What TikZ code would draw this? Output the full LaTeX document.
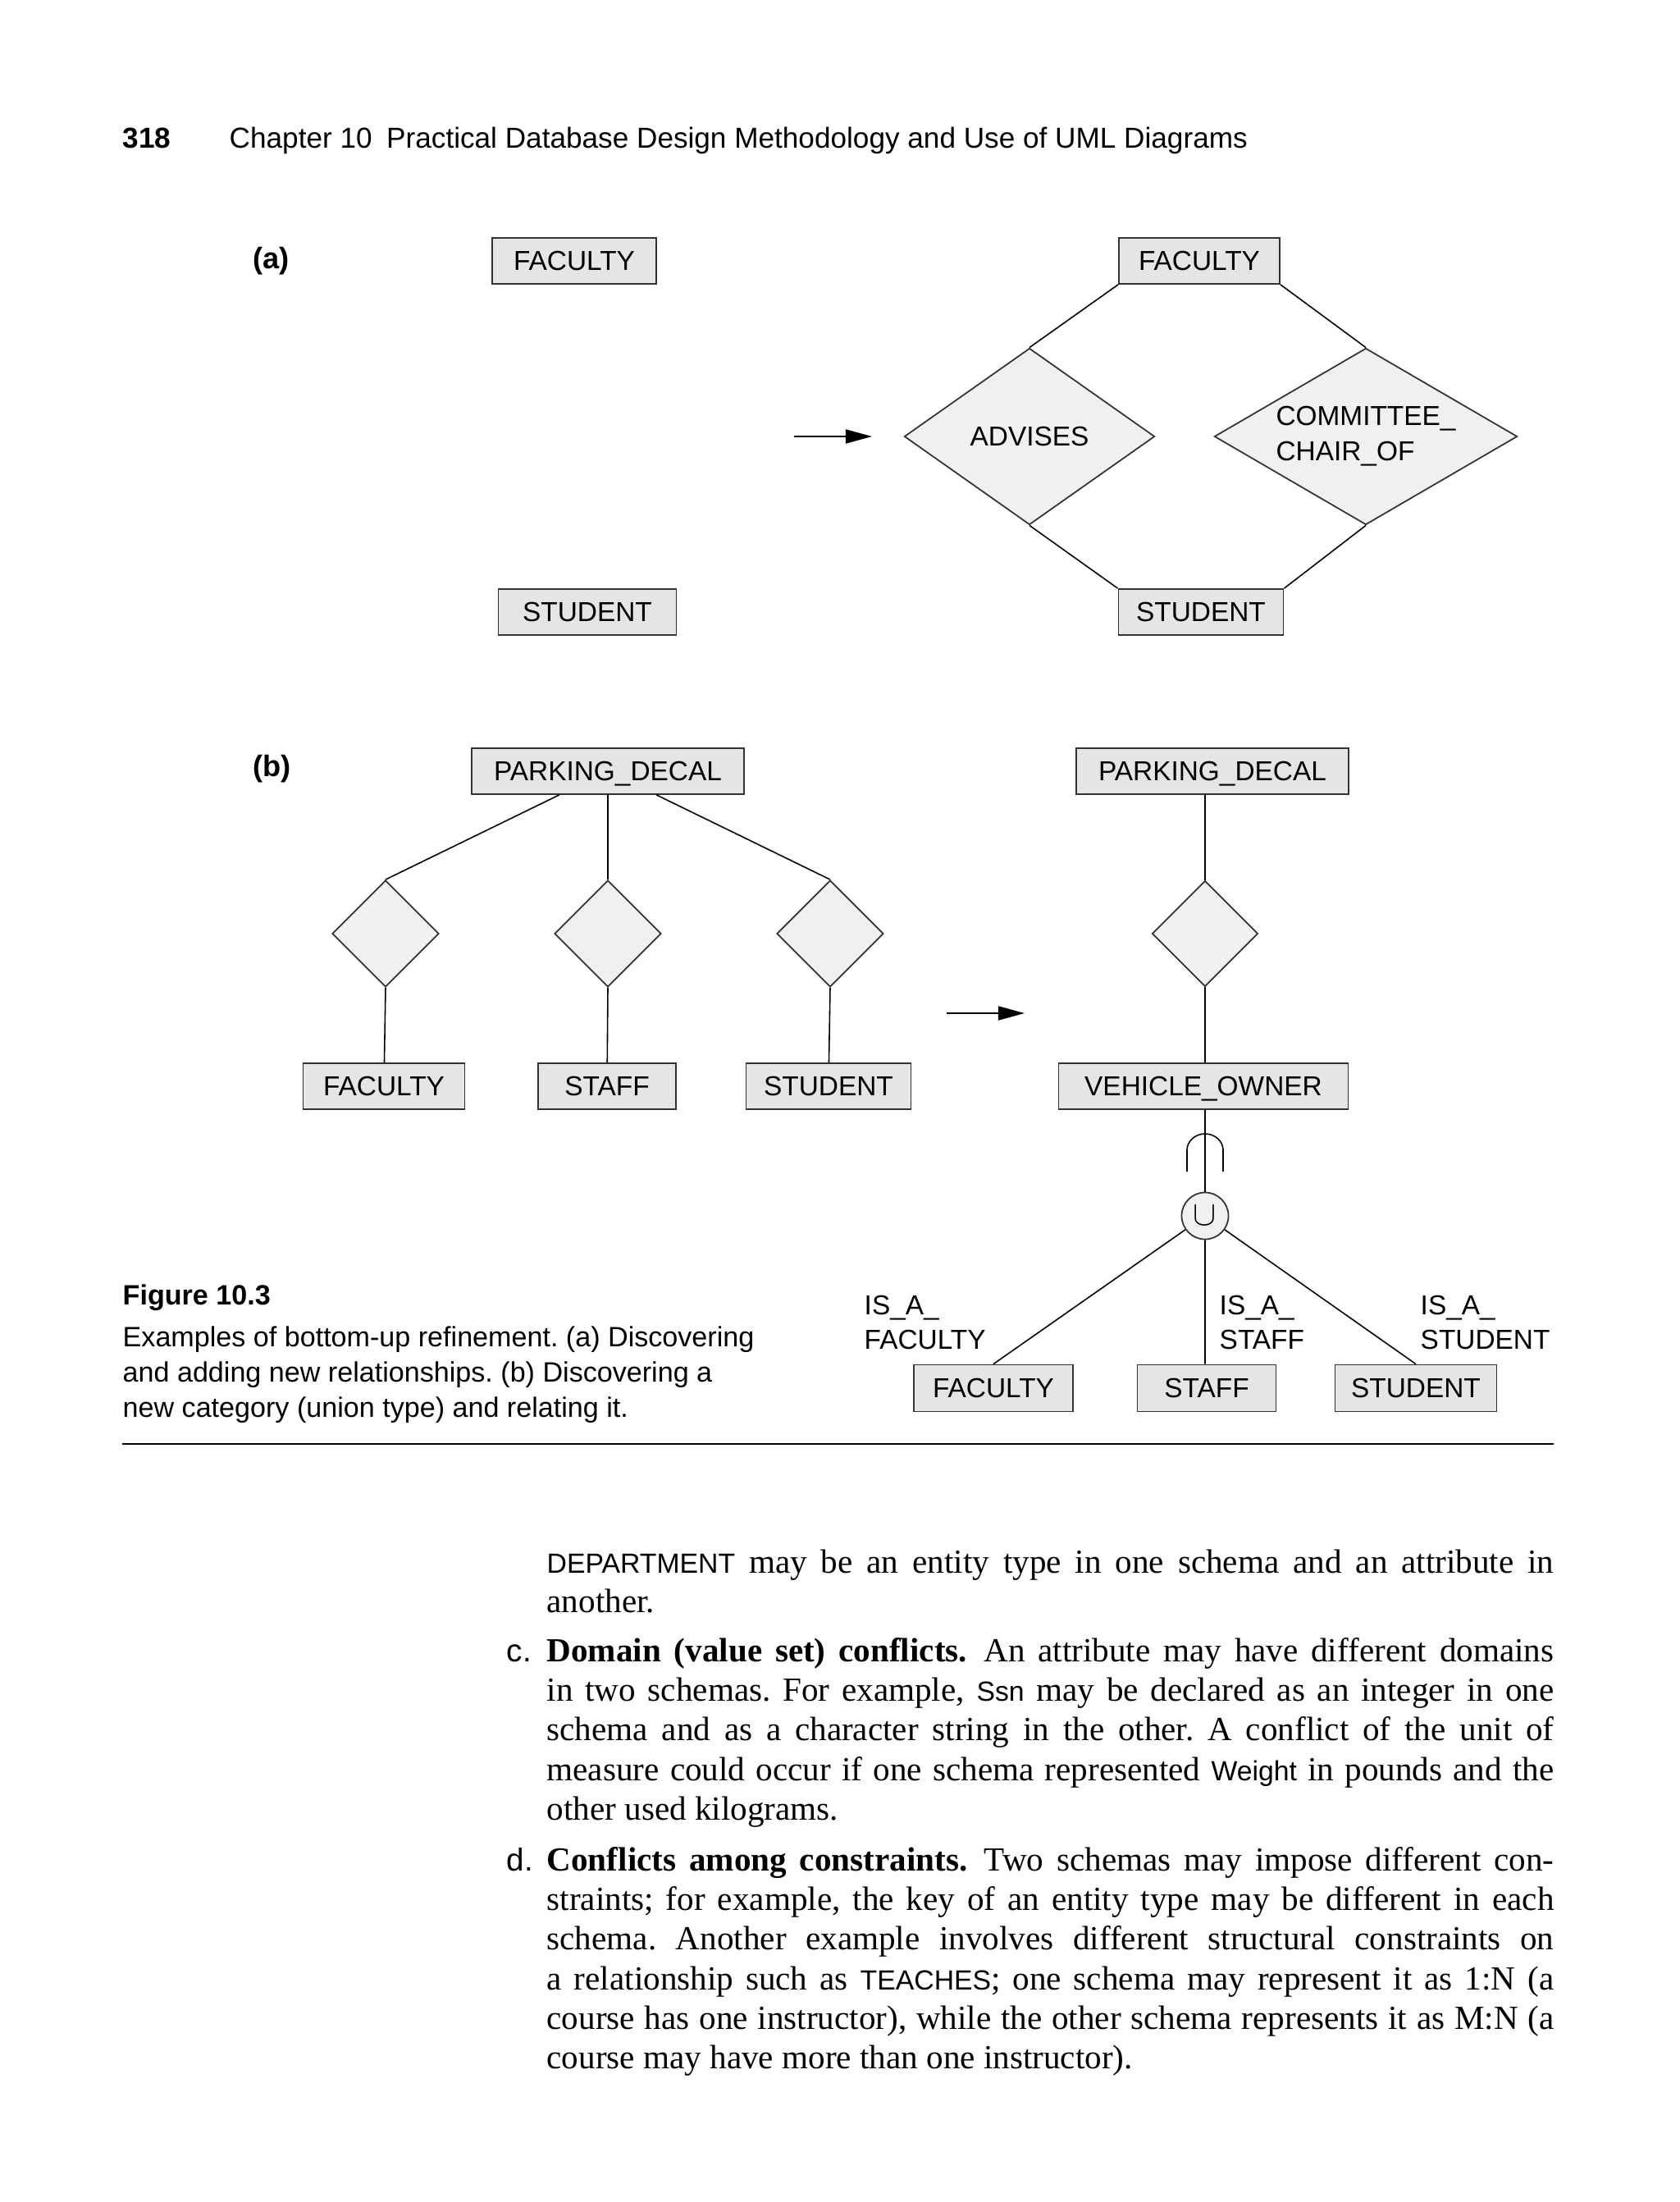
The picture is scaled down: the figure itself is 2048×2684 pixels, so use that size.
\documentclass[tikz,border=0pt]{standalone}
\usepackage{fontspec}
\setmainfont{Liberation Serif}
\setsansfont{Liberation Sans}
\usetikzlibrary{shapes.geometric,arrows.meta}
\definecolor{entfill}{gray}{0.90}
\definecolor{relfill}{gray}{0.94}
\definecolor{edge}{gray}{0.2}
\newcommand{\sfw}[1]{{\sffamily\fontsize{9.6pt}{13.66pt}\selectfont #1}}
\newcommand{\topfix}{\rule{0pt}{10pt}}
\frenchspacing

\begin{document}
\begin{tikzpicture}[x=0.01cm, y=-0.01cm,
	ent/.style={draw=edge, line width=0.5pt, fill=entfill, minimum height=0.56cm, inner sep=0pt, text depth=0pt, font=\sffamily\fontsize{9.5pt}{12.2pt}\selectfont},
	rel/.style={diamond, draw=edge, line width=0.5pt, fill=relfill, inner sep=0pt, font=\sffamily\fontsize{9.5pt}{12.2pt}\selectfont},
	link/.style={line width=0.45pt},
	refine/.style={line width=0.5pt, -{Triangle[length=0.32cm,width=0.17cm]}},
	isa/.style={anchor=north west, inner sep=0pt, align=left, font=\sffamily\fontsize{9.5pt}{12.2pt}\selectfont},
	part/.style={anchor=base west, inner sep=0pt, font=\sffamily\bfseries\fontsize{10.3pt}{12pt}\selectfont},
	body/.style={anchor=north west, inner sep=0pt, text width=12.27cm, align=justify, font=\fontsize{11.7pt}{13.66pt}\selectfont}]
	\useasboundingbox (0,0) rectangle (2048,2684);
	% running head
	\node[anchor=base west, inner sep=0pt, font=\sffamily\bfseries\fontsize{10pt}{12pt}\selectfont] (pgno) at (149,180) {318};
	\node[anchor=base west, inner sep=0pt, font=\sffamily\fontsize{10pt}{12pt}\selectfont] (runhead) at (279,180) {Chapter 10\enspace Practical Database Design Methodology and Use of UML Diagrams};
	% (a)
	\node[part] (lbla) at (308,327) {(a)};
	\node[ent, minimum width=2.00cm] (fac1) at (700,318) {FACULTY};
	\node[ent, minimum width=2.17cm] (stu1) at (716,746) {STUDENT};
	\coordinate (a1) at (968,532); \coordinate (a2) at (1063,532);
	\draw[refine] (a1) -- (a2);
	\node[ent, minimum width=1.96cm] (fac2) at (1462,318) {FACULTY};
	\node[ent, minimum width=2.01cm] (stu2) at (1464,746) {STUDENT};
	\node[rel, minimum width=3.05cm, minimum height=2.15cm] (adv) at (1255,532) {ADVISES};
	\node[rel, minimum width=3.69cm, minimum height=2.15cm, aspect=1.7, align=left] (chair) at (1665,532) {COMMITTEE\_\\CHAIR\_OF};
	\draw[link] (fac2.south west) -- (adv.north) (fac2.south east) -- (chair.north)
		(adv.south) -- (stu2.north west) (chair.south) -- (stu2.north east);
	% (b) before
	\node[part] (lblb) at (308,946) {(b)};
	\node[ent, minimum width=3.32cm] (pd1) at (741,940) {PARKING\_DECAL};
	\foreach \n/\x in {r1/470, r2/741, r3/1012}
		\node[rel, minimum size=1.30cm] (\n) at (\x,1138) {};
	\node[ent, minimum width=1.97cm] (fac3) at (468,1324) {FACULTY};
	\node[ent, minimum width=1.68cm] (sta3) at (740,1324) {STAFF};
	\node[ent, minimum width=2.01cm] (stu3) at (1010,1324) {STUDENT};
	\draw[link] (r1.north) -- (pd1) (r2.north) -- (pd1) (r3.north) -- (pd1)
		(r1.south) -- (fac3) (r2.south) -- (sta3) (r3.south) -- (stu3);
	\coordinate (b1) at (1154,1235); \coordinate (b2) at (1249,1235);
	\draw[refine] (b1) -- (b2);
	% (b) after
	\node[ent, minimum width=3.32cm] (pd2) at (1478,940) {PARKING\_DECAL};
	\node[rel, minimum size=1.29cm] (r4) at (1469,1138) {};
	\node[ent, minimum width=3.53cm] (veh) at (1467,1324) {VEHICLE\_OWNER};
	\node[circle, draw=edge, line width=0.5pt, fill=relfill, minimum size=0.57cm, inner sep=0pt, font=\fontsize{11.5pt}{12pt}\selectfont] (un) at (1469,1482) {$\cup$};
	\draw[link] (r4.north) -- (r4.north |- pd2.south) (r4.south) -- (r4.south |- veh.north)
		(un.north) -- (un.north |- veh.south);
	\draw[link] (1447,1428) -- (1447,1402) arc[start angle=180, end angle=0, x radius=0.22cm, y radius=0.2cm] -- (1491,1428);
	\node[ent, minimum width=1.94cm, minimum height=0.57cm] (fac4) at (1211,1692) {FACULTY};
	\node[ent, minimum width=1.69cm, minimum height=0.57cm] (sta4) at (1471,1692) {STAFF};
	\node[ent, minimum width=1.97cm, minimum height=0.57cm] (stu4) at (1726,1692) {STUDENT};
	\draw[link] (un) -- (fac4.north) (un.south) -- (un.south |- sta4.north) (un) -- (stu4.north);
	\node[isa] (isafac) at (1053,1578) {IS\_A\_\\FACULTY};
	\node[isa] (isasta) at (1486,1578) {IS\_A\_\\STAFF};
	\node[isa] (isastu) at (1731,1578) {IS\_A\_\\STUDENT};
	% caption and rule
	\node[anchor=base west, inner sep=0pt, font=\sffamily\bfseries\fontsize{9.7pt}{12pt}\selectfont] (figno) at (149,1590) {Figure 10.3};
	\node[anchor=north west, inner sep=0pt, align=left, font=\sffamily\fontsize{9.7pt}{12.2pt}\selectfont] (caption) at (149,1616)
		{Examples of bottom-up refinement. (a) Discovering\\and adding new relationships. (b) Discovering a\\new category (union type) and relating it.};
	\coordinate (rulel) at (149,1760); \coordinate (ruler) at (1894,1760);
	\draw[line width=0.8pt] (rulel) -- (ruler);
	% body text
	\node[body] (para1) at (666,1882) {\topfix\sfw{DEPARTMENT} may be an entity type in one schema and an attribute in\linebreak another.};
	\node[part, font=\sffamily\fontsize{11pt}{13.66pt}\selectfont] (itemc) at (617,2025) {c.};
	\node[body] (para2) at (666,1990) {\topfix\textbf{Domain (value set) conflicts.}\enspace An attribute may have different domains\linebreak in two schemas. For example, \sfw{Ssn} may be declared as an integer in one\linebreak schema and as a character string in the other. A conflict of the unit of\linebreak measure could occur if one schema represented \sfw{Weight} in pounds and the\linebreak other used kilograms.};
	\node[part, font=\sffamily\fontsize{11pt}{13.66pt}\selectfont] (itemd) at (617,2280) {d.};
	\node[body] (para3) at (666,2245) {\topfix\textbf{Conflicts among constraints.}\enspace Two schemas may impose different con-\linebreak straints; for example, the key of an entity type may be different in each\linebreak schema. Another example involves different structural constraints on\linebreak a relationship such as \sfw{TEACHES}; one schema may represent it as 1:N (a\linebreak course has one instructor), while the other schema represents it as M:N (a\linebreak course may have more than one instructor).};
\end{tikzpicture}
\end{document}
